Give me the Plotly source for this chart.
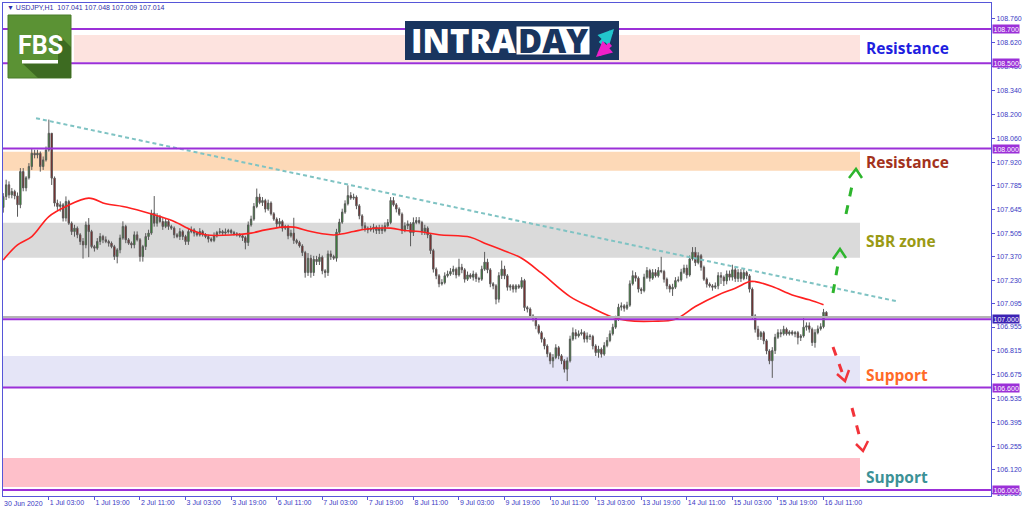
import plotly.graph_objects as go

# ---- data ----
symbol_header = "\u25BC USDJPY,H1  107.041 107.048 107.009 107.014"

first_open = 107.655
closes = [
    107.719, 107.788, 107.729, 107.749, 107.723, 107.671, 107.866, 107.770, 107.829, 107.895,
    107.973, 107.963, 107.973, 107.895, 107.934, 107.992, 108.090, 107.827, 107.681, 107.661,
    107.671, 107.593, 107.690, 107.563, 107.514, 107.534, 107.495, 107.456, 107.436, 107.553,
    107.514, 107.426, 107.417, 107.456, 107.485, 107.466, 107.456, 107.446, 107.426, 107.368,
    107.407, 107.476, 107.544, 107.466, 107.446, 107.436, 107.495, 107.466, 107.368, 107.426,
    107.485, 107.505, 107.622, 107.563, 107.602, 107.573, 107.544, 107.573, 107.544, 107.534,
    107.495, 107.485, 107.514, 107.485, 107.456, 107.514, 107.524, 107.505, 107.495, 107.514,
    107.495, 107.485, 107.470, 107.462, 107.489, 107.508, 107.514, 107.505, 107.512, 107.520,
    107.508, 107.501, 107.495, 107.489, 107.479, 107.450, 107.553, 107.587, 107.661, 107.716,
    107.684, 107.696, 107.646, 107.681, 107.618, 107.587, 107.558, 107.573, 107.534, 107.544,
    107.489, 107.505, 107.462, 107.450, 107.430, 107.391, 107.274, 107.358, 107.274, 107.352,
    107.338, 107.364, 107.284, 107.274, 107.383, 107.368, 107.358, 107.510, 107.569, 107.628,
    107.677, 107.725, 107.710, 107.716, 107.665, 107.606, 107.548, 107.534, 107.524, 107.528,
    107.540, 107.520, 107.534, 107.520, 107.548, 107.567, 107.696, 107.671, 107.646, 107.616,
    107.520, 107.548, 107.559, 107.508, 107.567, 107.579, 107.567, 107.514, 107.534, 107.495,
    107.403, 107.294, 107.255, 107.208, 107.215, 107.255, 107.265, 107.280, 107.294, 107.260,
    107.305, 107.290, 107.235, 107.260, 107.247, 107.265, 107.239, 107.235, 107.294, 107.335,
    107.290, 107.208, 107.196, 107.118, 107.256, 107.294, 107.255, 107.188, 107.196, 107.177,
    107.196, 107.188, 107.227, 107.069, 107.060, 107.020, 107.007, 106.962, 106.922, 106.884,
    106.844, 106.798, 106.757, 106.776, 106.834, 106.786, 106.757, 106.708, 106.757, 106.884,
    106.922, 106.903, 106.915, 106.922, 106.884, 106.903, 106.899, 106.844, 106.805, 106.825,
    106.796, 106.846, 106.876, 106.915, 106.954, 107.001, 107.071, 107.079, 107.065, 107.083,
    107.208, 107.256, 107.241, 107.177, 107.168, 107.247, 107.286, 107.241, 107.274, 107.255,
    107.286, 107.280, 107.235, 107.196, 107.177, 107.188, 107.227, 107.231, 107.276, 107.300,
    107.260, 107.354, 107.393, 107.332, 107.373, 107.305, 107.235, 107.206, 107.196, 107.188,
    107.196, 107.256, 107.247, 107.225, 107.266, 107.247, 107.290, 107.239, 107.274, 107.239,
    107.274, 107.255, 107.177, 107.020, 106.942, 106.899, 106.922, 106.874, 106.815, 106.757,
    106.817, 106.895, 106.922, 106.915, 106.942, 106.915, 106.926, 106.915, 106.922, 106.893,
    106.903, 106.954, 106.962, 106.942, 106.864, 106.922, 106.944, 106.957, 107.041, 107.014,
]
# wick lengths above / below the body, in pips
upper_wick = [
    2, 3, 2, 2, 1, 2, 2, 2, 1, 2,   3, 2, 2, 1, 2, 2, 8, 0, 1, 2,
    2, 1, 3, 1, 1, 2, 1, 1, 2, 2,   4, 1, 1, 2, 2, 1, 2, 1, 1, 1,
    1, 2, 3, 1, 1, 1, 2, 2, 1, 1,   2, 2, 2, 10, 2, 1, 2, 2, 1, 1,
    1, 1, 2, 1, 1, 2, 2, 1, 1, 2,   1, 1, 1, 1, 2, 1, 2, 1, 2, 1,
    1, 1, 1, 1, 1, 1, 2, 2, 2, 5,   2, 2, 1, 2, 1, 1, 1, 2, 1, 1,
    1, 2, 9, 1, 1, 1, 1, 3, 2, 2,   2, 2, 1, 1, 2, 2, 1, 2, 2, 2,
    2, 6, 2, 2, 1, 1, 1, 2, 1, 2,   2, 1, 2, 2, 2, 2, 2, 2, 1, 1,
    1, 2, 2, 1, 3, 2, 2, 1, 2, 1,   1, 1, 1, 1, 2, 2, 2, 2, 2, 1,
    5, 2, 1, 2, 1, 2, 1, 1, 2, 6,   2, 1, 1, 1, 2, 5, 2, 1, 1, 1,
    1, 1, 2, 1, 1, 1, 1, 1, 1, 1,   1, 1, 1, 2, 2, 1, 1, 1, 2, 2,
    3, 2, 2, 2, 1, 2, 1, 1, 1, 2,   1, 2, 2, 2, 2, 2, 2, 2, 1, 2,
    2, 3, 2, 1, 1, 2, 2, 1, 2, 2,   2, 8, 1, 1, 1, 2, 2, 2, 2, 2,
    2, 2, 3, 3, 2, 1, 1, 1, 1, 1,   2, 2, 2, 1, 2, 2, 3, 2, 2, 2,
    2, 1, 1, 1, 1, 2, 1, 1, 1, 1,   2, 2, 2, 2, 2, 1, 1, 1, 1, 1,
    1, 6, 2, 2, 1, 2, 2, 2, 2, 0.7,
]
lower_wick = [
    3, 2, 2, 2, 2, 7, 2, 2, 2, 1,   2, 2, 2, 3, 2, 1, 1, 4, 2, 2,
    3, 2, 2, 1, 2, 3, 2, 2, 8, 2,   15, 1, 2, 1, 2, 2, 1, 2, 1, 2,
    4, 2, 1, 2, 1, 2, 2, 1, 3, 3,   2, 2, 1, 2, 2, 1, 2, 1, 2, 1,
    2, 1, 2, 2, 2, 2, 1, 2, 1, 1,   1, 1, 2, 1, 1, 1, 1, 1, 1, 1,
    1, 1, 1, 1, 2, 4, 2, 1, 1, 1,   1, 2, 2, 1, 1, 1, 2, 2, 2, 1,
    2, 1, 2, 1, 1, 2, 3, 2, 3, 2,   2, 2, 2, 3, 2, 2, 1, 2, 1, 1,
    1, 1, 1, 1, 2, 2, 2, 2, 2, 1,   2, 2, 2, 2, 1, 1, 1, 1, 2, 1,
    2, 1, 2, 8, 2, 1, 1, 2, 2, 2,   2, 2, 2, 2, 1, 1, 1, 1, 2, 2,
    1, 2, 2, 1, 1, 2, 2, 2, 1, 1,   2, 2, 2, 3, 2, 2, 2, 2, 2, 2,
    2, 1, 1, 2, 2, 1, 2, 2, 1, 2,   2, 2, 2, 4, 1, 2, 2, 2, 7, 1,
    1, 2, 1, 1, 2, 2, 2, 2, 2, 3,   2, 1, 1, 1, 1, 1, 1, 2, 2, 1,
    1, 1, 2, 2, 2, 1, 1, 2, 1, 1,   1, 1, 2, 2, 2, 4, 1, 1, 1, 1,
    2, 1, 1, 2, 1, 2, 1, 2, 1, 2,   1, 2, 4, 3, 2, 2, 2, 2, 2, 2,
    1, 2, 2, 2, 2, 2, 2, 2, 2, 2,   10, 2, 1, 2, 1, 1, 1, 1, 2, 4,
    2, 1, 2, 2, 2, 3, 1, 1, 1, 0.5,
]

# moving average (red line), sampled along the bars
ma_bar = [0, 5, 10, 16, 22, 30, 36, 42, 49, 55, 60, 66, 71, 81, 87, 92, 98, 102, 108, 115,
          117, 123, 127, 136, 141, 146, 153, 164, 169, 175, 182, 189, 199, 207, 214, 219,
          228, 236, 243, 251, 257, 262, 264, 270, 277, 283, 288]
ma_value = [107.348, 107.436, 107.485, 107.602, 107.661, 107.710, 107.677, 107.661, 107.632,
            107.602, 107.573, 107.524, 107.495, 107.495, 107.505, 107.524, 107.540, 107.540,
            107.514, 107.495, 107.495, 107.514, 107.528, 107.534, 107.520, 107.514, 107.495,
            107.481, 107.446, 107.407, 107.358, 107.270, 107.133, 107.065, 107.012, 106.993,
            106.989, 107.001, 107.075, 107.143, 107.182, 107.221, 107.221, 107.192, 107.143,
            107.114, 107.085]

# dashed trend line
trend_bar = [11.5, 314.2]
trend_price = [108.178, 107.104]

# x axis labels
time_tick_bars = [16, 32, 48, 64, 80, 96, 112, 128, 144, 160, 176, 192, 208, 224, 240, 256, 272, 288]
time_tick_text = ["1 Jul 03:00", "1 Jul 19:00", "2 Jul 11:00", "3 Jul 03:00", "3 Jul 19:00",
                  "6 Jul 11:00", "7 Jul 03:00", "7 Jul 19:00", "8 Jul 11:00", "9 Jul 03:00",
                  "9 Jul 19:00", "10 Jul 11:00", "13 Jul 03:00", "13 Jul 19:00", "14 Jul 11:00",
                  "15 Jul 03:00", "15 Jul 19:00", "16 Jul 11:00"]
first_time_label = "30 Jun 2020"

# y axis labels
price_ticks = [108.760, 108.620, 108.480, 108.340, 108.200, 108.060, 107.920, 107.785, 107.645,
               107.505, 107.370, 107.230, 107.095, 106.955, 106.815, 106.675, 106.535, 106.395,
               106.255, 106.120, 105.980]

# horizontal levels
levels = [108.700, 108.500, 108.000, 107.000, 106.600, 106.000]
bid_price = 107.014

# zones: (start bar, end bar, low, high, colour)
zone_start = [24.8, -0.1, -0.1, -0.1, -0.1]
zone_end = [300.8, 300.8, 300.8, 300.8, 300.8]
zone_low = [108.508, 107.870, 107.360, 106.603, 106.018]
zone_high = [108.666, 107.981, 107.566, 106.785, 106.188]
zone_color = ["#fde3df", "#fdd9b7", "#dadada", "#e5e5f7", "#fec0ca"]

# zone captions
caption_text = ["Resistance", "Resistance", "SBR zone", "Support", "Support"]
caption_price = [108.590, 107.922, 107.459, 106.674, 106.077]
caption_color = ["#1e1ee0", "#a3321c", "#9a9a14", "#ff6a28", "#3c9196"]

# ---- figure ----
opens = [first_open] + closes[:-1]
highs = [max(o, c) + u * 0.01 for o, c, u in zip(opens, closes, upper_wick)]
lows = [min(o, c) - d * 0.01 for o, c, d in zip(opens, closes, lower_wick)]
bars = list(range(len(closes)))

X_RANGE = [-0.1, 346.8]
Y_RANGE = [105.965, 108.853]
AXIS_BLUE = "#5656d8"
TEXT_BLUE = "#3a3ac4"
PURPLE = "#9b30d8"

fig = go.Figure()

fig.add_trace(go.Candlestick(
    x=bars, open=opens, high=highs, low=lows, close=closes,
    increasing=dict(line=dict(color="#5a5a5a", width=1), fillcolor="#1f9a1f"),
    decreasing=dict(line=dict(color="#5a5a5a", width=1), fillcolor="#8c0c0c"),
    whiskerwidth=0, showlegend=False, hoverinfo="skip",
))

fig.add_trace(go.Scatter(
    x=ma_bar, y=ma_value, mode="lines", line=dict(color="#ff2020", width=1.6),
    line_shape="spline", showlegend=False, hoverinfo="skip",
))

fig.add_trace(go.Scatter(
    x=trend_bar, y=trend_price, mode="lines",
    line=dict(color="#7fc3c3", width=2, dash="4px,3px"), showlegend=False, hoverinfo="skip",
))

shapes = []
for x0, x1, lo, hi, col in zip(zone_start, zone_end, zone_low, zone_high, zone_color):
    shapes.append(dict(type="rect", xref="x", yref="y", x0=x0, x1=x1, y0=lo, y1=hi,
                       fillcolor=col, line=dict(width=0), layer="below"))

shapes.append(dict(type="line", xref="paper", yref="y", x0=0, x1=1, y0=bid_price, y1=bid_price,
                   line=dict(color="#b4b4b4", width=2), layer="above"))
for lv in levels:
    shapes.append(dict(type="line", xref="paper", yref="y", x0=0, x1=1, y0=lv, y1=lv,
                       line=dict(color=PURPLE, width=2), layer="above"))


# pixel -> paper helpers for decorations (logos, hand-drawn arrows)
def px(x):
    return (x - 3) / 988


def py(y):
    return (496 - y) / 493


def path(points):
    return "M " + " L ".join(f"{px(a):.5f},{py(b):.5f}" for a, b in points)


# dashed forecast arrows
arrows = [
    ("#2db52d", (833, 293), (839, 258), [(833, 259), (840, 249), (846, 258)]),
    ("#2db52d", (846, 214), (853, 181), [(849, 178), (856, 169), (862, 178)]),
    ("#f2333a", (833, 347), (842, 372), [(837, 374), (845, 381), (849, 370)]),
    ("#f2333a", (852, 408), (861, 442), [(856, 444), (863, 451), (868, 441)]),
]
for col, a, b, head in arrows:
    shapes.append(dict(type="line", xref="paper", yref="paper",
                       x0=px(a[0]), y0=py(a[1]), x1=px(b[0]), y1=py(b[1]),
                       line=dict(color=col, width=3, dash="dash"), layer="above"))
    shapes.append(dict(type="path", xref="paper", yref="paper", path=path(head),
                       line=dict(color=col, width=2.5), layer="above"))

# FBS logo
shapes.append(dict(type="rect", xref="paper", yref="paper", x0=px(8), x1=px(71), y0=py(78), y1=py(15),
                   fillcolor="#5b9234", line=dict(color="#4a7d2a", width=1), layer="above"))
shapes.append(dict(type="path", xref="paper", yref="paper",
                   path=path([(58, 34), (71, 47), (71, 78), (38, 78), (22, 63), (58, 63)]) + " Z",
                   fillcolor="#3d6b21", line=dict(width=0), layer="above"))
shapes.append(dict(type="rect", xref="paper", yref="paper", x0=px(22), x1=px(58), y0=py(63.5), y1=py(60),
                   fillcolor="white", line=dict(width=0), layer="above"))

# INTRADAY logo
shapes.append(dict(type="rect", xref="paper", yref="paper", x0=px(405), x1=px(619), y0=py(60), y1=py(21),
                   fillcolor="#19355f", line=dict(width=0), layer="above"))
shapes.append(dict(type="rect", xref="paper", yref="paper", x0=px(516), x1=px(590), y0=py(55), y1=py(26),
                   fillcolor="white", line=dict(color="#19355f", width=1), layer="above"))

annotations = []
annotations.append(dict(text=symbol_header, xref="paper", yref="paper", x=px(5), y=py(7.5),
                        xanchor="left", yanchor="middle", showarrow=False,
                        font=dict(family="Liberation Sans", size=7, color="#2f2fa8")))
annotations.append(dict(text="FBS", xref="paper", yref="paper", x=px(40), y=py(45),
                        xanchor="center", yanchor="middle", showarrow=False,
                        font=dict(family="Roboto", size=25, color="white", weight=700)))
annotations.append(dict(text="INTRA", xref="paper", yref="paper", x=px(463), y=py(41),
                        xanchor="center", yanchor="middle", showarrow=False,
                        font=dict(family="Open Sans", size=33, color="white", weight=800)))
annotations.append(dict(text="DAY", xref="paper", yref="paper", x=px(553), y=py(41),
                        xanchor="center", yanchor="middle", showarrow=False,
                        font=dict(family="Open Sans", size=33, color="#19355f", weight=800)))
annotations.append(dict(text="", xref="paper", yref="paper", x=px(614), y=py(29), ax=-15, ay=16,
                        showarrow=True, arrowhead=2, arrowsize=0.7, arrowwidth=4.5, arrowcolor="#22c6cc"))
annotations.append(dict(text="", xref="paper", yref="paper", x=px(596), y=py(57), ax=16, ay=-14,
                        showarrow=True, arrowhead=2, arrowsize=0.7, arrowwidth=4.5, arrowcolor="#ef1fc9"))

for txt, pr, col in zip(caption_text, caption_price, caption_color):
    annotations.append(dict(text=txt, xref="x", yref="y", x=302.2, y=pr, xanchor="left",
                            yanchor="middle", showarrow=False,
                            font=dict(family="Open Sans", size=15.5, color=col, weight=700)))

for lv in levels:
    annotations.append(dict(text=f"{lv:.3f}", xref="paper", yref="y", x=1, y=lv, xanchor="left",
                            yanchor="middle", xshift=1, showarrow=False,
                            bgcolor="#3b22b4" if lv == 107.0 else PURPLE, borderpad=0.5,
                            font=dict(family="Liberation Sans", size=7, color="white")))

annotations.append(dict(text=first_time_label, xref="paper", yref="paper", x=px(2), y=py(503),
                        xanchor="left", yanchor="middle", showarrow=False,
                        font=dict(family="Liberation Sans", size=7, color=TEXT_BLUE)))

fig.update_layout(
    width=1024, height=511,
    margin=dict(l=3, r=33, t=3, b=15, autoexpand=False),
    paper_bgcolor="white", plot_bgcolor="white",
    shapes=shapes, annotations=annotations,
    showlegend=False,
    xaxis=dict(range=X_RANGE, rangeslider=dict(visible=False), showgrid=False, zeroline=False,
               automargin=False, tickangle=0,
               tickvals=time_tick_bars, ticktext=time_tick_text, ticks="outside", ticklen=3,
               tickcolor=AXIS_BLUE, ticklabelposition="outside right",
               tickfont=dict(family="Liberation Sans", size=7, color=TEXT_BLUE),
               showline=True, linecolor=AXIS_BLUE, linewidth=1, mirror=True),
    yaxis=dict(range=Y_RANGE, side="right", showgrid=False, zeroline=False, automargin=False,
               tickvals=price_ticks, ticktext=[f"{p:.3f}" for p in price_ticks],
               ticks="outside", ticklen=3, tickcolor=AXIS_BLUE,
               tickfont=dict(family="Liberation Sans", size=7, color=TEXT_BLUE),
               showline=True, linecolor=AXIS_BLUE, linewidth=1, mirror=True),
)

fig.write_html("out.html", config={"displayModeBar": False},
               post_script="document.body.style.margin='0';")
